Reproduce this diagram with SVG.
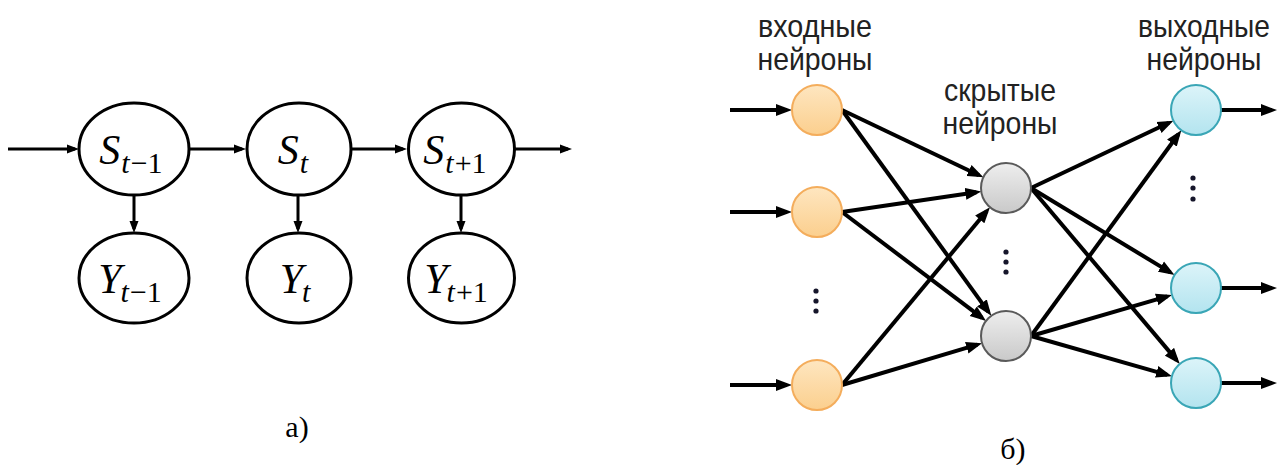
<svg xmlns="http://www.w3.org/2000/svg" width="1285" height="465" viewBox="0 0 1285 465">
<style>
.ell{fill:#fff;stroke:#000;stroke-width:3}
.math{font-family:"Liberation Serif","DejaVu Serif",serif;font-size:42px;font-style:italic;fill:#000;text-anchor:middle}
.sub{font-size:30px}
.up{font-style:normal}
.c1{stroke:#000;stroke-width:3;fill:none;marker-end:url(#ahs)}
.c2{stroke:#000;stroke-width:4;fill:none;marker-end:url(#ahl)}
.lbl{font-family:"Liberation Sans",Arial,sans-serif;font-size:32px;fill:#222;text-anchor:middle}
.cap{font-family:"Liberation Serif","DejaVu Serif",serif;font-size:30px;fill:#000;text-anchor:middle}
.in{fill:url(#gin);stroke:#f4ad5c;stroke-width:2}
.hid{fill:url(#ghid);stroke:#5a5a5a;stroke-width:2}
.out{fill:url(#gout);stroke:#3aa6b6;stroke-width:2}
.dot{fill:#15152a}
</style>
<defs>
<marker id="ahs" markerUnits="userSpaceOnUse" markerWidth="12" markerHeight="10" refX="8" refY="5" orient="auto"><path d="M0,0.5 L12,5 L0,9.5 z" fill="#000"/></marker>
<marker id="ahl" markerUnits="userSpaceOnUse" markerWidth="16" markerHeight="13" refX="11" refY="6.5" orient="auto"><path d="M0,0.5 L16,6.5 L0,12.5 z" fill="#000"/></marker>
<linearGradient id="gin" x1="0" y1="0" x2="0" y2="1"><stop offset="0" stop-color="#fee6c0"/><stop offset="1" stop-color="#fbcf8e"/></linearGradient>
<linearGradient id="ghid" x1="0" y1="0" x2="0" y2="1"><stop offset="0" stop-color="#eeeeee"/><stop offset="1" stop-color="#c9c9c9"/></linearGradient>
<linearGradient id="gout" x1="0" y1="0" x2="0" y2="1"><stop offset="0" stop-color="#dcf4f9"/><stop offset="1" stop-color="#b3e4ef"/></linearGradient>
</defs>

<!-- left diagram (а) -->
<g id="connectors-a">
<line class="c1" x1="8" y1="149" x2="75" y2="149"/>
<line class="c1" x1="189" y1="149" x2="242" y2="149"/>
<line class="c1" x1="351" y1="149" x2="403" y2="149"/>
<line class="c1" x1="515" y1="149" x2="568" y2="149"/>
<line class="c1" x1="134" y1="195" x2="134" y2="229"/>
<line class="c1" x1="298" y1="195" x2="298" y2="229"/>
<line class="c1" x1="461" y1="195" x2="461" y2="229"/>
</g>
<g id="S_tm1"><ellipse class="ell" cx="134" cy="149" rx="55" ry="46"/><text class="math" x="131" y="164">S<tspan class="sub" dy="9" dx="1">t</tspan><tspan class="sub up" dx="1">−1</tspan></text></g>
<g id="S_t"><ellipse class="ell" cx="299" cy="149" rx="52" ry="46"/><text class="math" x="293" y="164">S<tspan class="sub" dy="9" dx="1">t</tspan></text></g>
<g id="S_tp1"><ellipse class="ell" cx="461.5" cy="149" rx="53" ry="46"/><text class="math" x="455" y="164">S<tspan class="sub" dy="9" dx="1">t</tspan><tspan class="sub up" dx="1">+1</tspan></text></g>
<g id="Y_tm1"><ellipse class="ell" cx="134" cy="278" rx="55" ry="45"/><text class="math" x="130" y="293">Y<tspan class="sub" dy="9" dx="-1">t</tspan><tspan class="sub up" dx="1">−1</tspan></text></g>
<g id="Y_t"><ellipse class="ell" cx="299" cy="278" rx="52" ry="45"/><text class="math" x="295" y="293">Y<tspan class="sub" dy="9" dx="-1">t</tspan></text></g>
<g id="Y_tp1"><ellipse class="ell" cx="461.5" cy="278" rx="53" ry="45"/><text class="math" x="456" y="293">Y<tspan class="sub" dy="9" dx="-1">t</tspan><tspan class="sub up" dx="1">+1</tspan></text></g>
<text class="cap" x="297" y="437">а)</text>

<!-- right diagram (б) -->
<g id="connectors-b">
<line class="c2" x1="730" y1="110" x2="787" y2="110"/>
<line class="c2" x1="730" y1="212" x2="787" y2="212"/>
<line class="c2" x1="730" y1="385" x2="787" y2="385"/>
<line class="c2" x1="842" y1="110" x2="978.9" y2="175.2"/>
<line class="c2" x1="842" y1="110" x2="988.4" y2="311.8"/>
<line class="c2" x1="842" y1="212" x2="976.4" y2="192.3"/>
<line class="c2" x1="842" y1="212" x2="982.1" y2="317.9"/>
<line class="c2" x1="842" y1="385" x2="986.8" y2="211"/>
<line class="c2" x1="842" y1="385" x2="977.3" y2="344.6"/>
<line class="c2" x1="1031" y1="188" x2="1168.9" y2="122.8"/>
<line class="c2" x1="1031" y1="188" x2="1170.3" y2="272.4"/>
<line class="c2" x1="1031" y1="188" x2="1176.6" y2="360.1"/>
<line class="c2" x1="1031" y1="336" x2="1178.4" y2="134.2"/>
<line class="c2" x1="1031" y1="336" x2="1167.2" y2="296.4"/>
<line class="c2" x1="1031" y1="336" x2="1167.2" y2="374.8"/>
<line class="c2" x1="1221" y1="110" x2="1272" y2="110"/>
<line class="c2" x1="1221" y1="288" x2="1272" y2="288"/>
<line class="c2" x1="1221" y1="383" x2="1272" y2="383"/>
</g>
<g id="in1"><circle class="in" cx="817" cy="110" r="25"/></g>
<g id="in2"><circle class="in" cx="817" cy="212" r="25"/></g>
<g id="in3"><circle class="in" cx="817" cy="385" r="25"/></g>
<g id="hid1"><circle class="hid" cx="1006" cy="188" r="25"/></g>
<g id="hid2"><circle class="hid" cx="1006" cy="336" r="25"/></g>
<g id="out1"><circle class="out" cx="1196" cy="110" r="25"/></g>
<g id="out2"><circle class="out" cx="1196" cy="288" r="25"/></g>
<g id="out3"><circle class="out" cx="1196" cy="383" r="25"/></g>
<g id="dots">
<circle class="dot" cx="816" cy="291" r="2.6"/><circle class="dot" cx="816" cy="301" r="2.6"/><circle class="dot" cx="816" cy="311" r="2.6"/>
<circle class="dot" cx="1006" cy="252" r="2.6"/><circle class="dot" cx="1006" cy="262" r="2.6"/><circle class="dot" cx="1006" cy="272" r="2.6"/>
<circle class="dot" cx="1193" cy="178" r="2.6"/><circle class="dot" cx="1193" cy="188" r="2.6"/><circle class="dot" cx="1193" cy="199" r="2.6"/>
</g>
<g id="labels">
<text class="lbl" x="815" y="37" textLength="114" lengthAdjust="spacingAndGlyphs">входные</text>
<text class="lbl" x="815" y="70" textLength="115" lengthAdjust="spacingAndGlyphs">нейроны</text>
<text class="lbl" x="1000" y="101" textLength="112" lengthAdjust="spacingAndGlyphs">скрытые</text>
<text class="lbl" x="1000" y="134" textLength="115" lengthAdjust="spacingAndGlyphs">нейроны</text>
<text class="lbl" x="1204" y="37" textLength="132" lengthAdjust="spacingAndGlyphs">выходные</text>
<text class="lbl" x="1204" y="70" textLength="115" lengthAdjust="spacingAndGlyphs">нейроны</text>
</g>
<text class="cap" x="1013" y="459">б)</text>
</svg>
